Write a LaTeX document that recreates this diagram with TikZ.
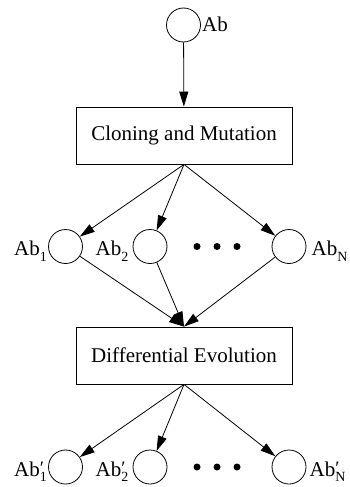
\documentclass[tikz,border=0pt]{standalone}
\usepackage{fontspec}
\setmainfont{Liberation Serif}
\usetikzlibrary{arrows.meta}
\newcommand{\mysb}[1]{\raisebox{-0.28em}{\fontsize{14}{14}\selectfont #1}}
\newcommand{\mypsb}[1]{\rlap{\raisebox{0.05em}{\fontsize{19}{19}\selectfont\char"2032}}\raisebox{-0.28em}{\fontsize{14}{14}\selectfont #1}}
\tikzset{
  abnode/.style={circle, draw, line width=0.8pt, minimum size=34pt, inner sep=0pt},
  procbox/.style={draw, line width=0.8pt, minimum width=216pt, minimum height=57pt, inner sep=0pt, font=\fontsize{21}{25}\selectfont},
  lbl/.style={inner sep=0pt, font=\fontsize{21}{25}\selectfont},
  arr/.style={-{Triangle[length=15pt,width=9pt]}, line width=0.8pt},
  bigdot/.style={circle, fill, minimum size=7pt, inner sep=0pt}
}
\begin{document}
\begin{tikzpicture}[x=1pt,y=-1pt]
\path[use as bounding box] (0,0) rectangle (350,487);
% top
\node[abnode] (t) at (183.5,25) {};
\node[lbl, anchor=base west] (tl) at ([xshift=1pt,yshift=-7pt]t.east) {Ab};
\node[procbox] (b1) at (184,135.5) {Cloning and Mutation};
% middle row
\node[abnode] (m1) at (65.5,246.5) {};
\node[abnode] (m2) at (150,246.5) {};
\node[abnode] (mn) at (289,246.5) {};
\node[bigdot] (d1) at (197,246.5) {};
\node[bigdot] (d2) at (217,246.5) {};
\node[bigdot] (d3) at (237,246.5) {};
\node[lbl, anchor=base east] (m1l) at ([xshift=-1pt,yshift=-9pt]m1.west) {Ab\mysb{1}};
\node[lbl, anchor=base east] (m2l) at ([xshift=-4pt,yshift=-9pt]m2.west) {Ab\mysb{2}};
\node[lbl, anchor=base west] (mnl) at ([xshift=5pt,yshift=-9pt]mn.east) {Ab\mysb{N}};
\node[procbox] (b2) at (184,355.5) {Differential Evolution};
% bottom row
\node[abnode] (p1) at (65.5,467) {};
\node[abnode] (p2) at (150,467) {};
\node[abnode] (pn) at (289,467) {};
\node[bigdot] (e1) at (197,467) {};
\node[bigdot] (e2) at (217,467) {};
\node[bigdot] (e3) at (237,467) {};
\node[lbl, anchor=base east] (p1l) at ([xshift=-1pt,yshift=-9pt]p1.west) {Ab\mypsb{1}};
\node[lbl, anchor=base east] (p2l) at ([xshift=-4pt,yshift=-9pt]p2.west) {Ab\mypsb{2}};
\node[lbl, anchor=base west] (pnl) at ([xshift=3pt,yshift=-9pt]pn.east) {Ab\mypsb{N}};
% arrows
\draw[arr] (t) -- (b1);
\draw[arr] (b1.south) -- (m1);
\draw[arr] (b1.south) -- (m2);
\draw[arr] (b1.south) -- (mn);
\draw[arr] (m1) -- (b2.north);
\draw[arr] (m2) -- (b2.north);
\draw[arr] (mn) -- (b2.north);
\draw[arr] (b2.south) -- (p1);
\draw[arr] (b2.south) -- (p2);
\draw[arr] (b2.south) -- (pn);
\end{tikzpicture}
\end{document}
